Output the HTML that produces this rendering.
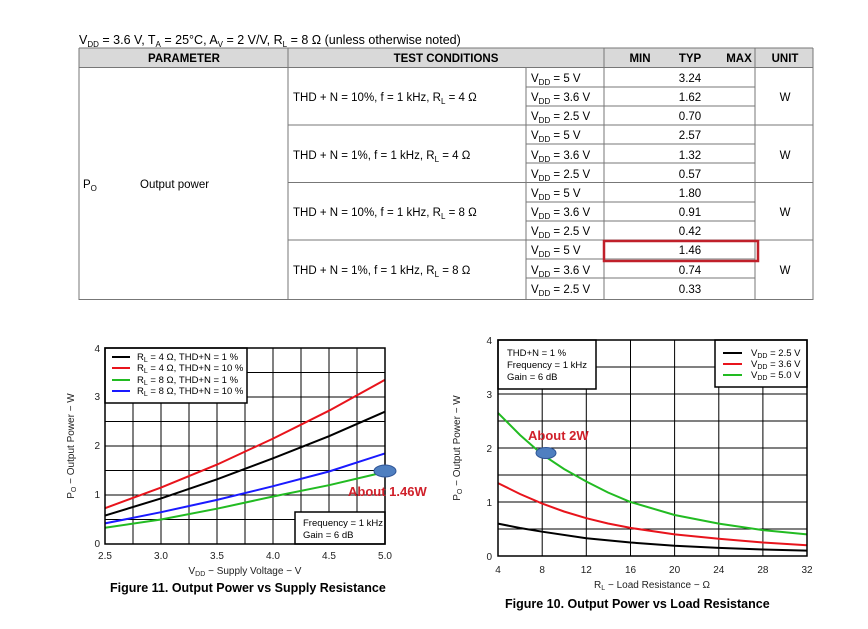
<!DOCTYPE html>
<html><head><meta charset="utf-8"><style>
body{margin:0;background:#fff;}
svg{display:block;font-family:"Liberation Sans",sans-serif;}
</style></head><body>
<svg width="868" height="629" viewBox="0 0 868 629" xmlns="http://www.w3.org/2000/svg">
<rect width="868" height="629" fill="#fff"/>
<!-- Table -->
<text x="79" y="44" font-size="12.5">V<tspan font-size="8" dy="3">DD</tspan><tspan dy="-3"> = 3.6 V, T</tspan><tspan font-size="8" dy="3">A</tspan><tspan dy="-3"> = 25°C, A</tspan><tspan font-size="8" dy="3">V</tspan><tspan dy="-3"> = 2 V/V, R</tspan><tspan font-size="8" dy="3">L</tspan><tspan dy="-3"> = 8 Ω (unless otherwise noted)</tspan></text>
<rect x="79" y="48" width="734" height="20" fill="#d9d9d9"/>
<g stroke="#777" stroke-width="1" fill="none">
<line x1="79" y1="48" x2="813" y2="48"/>
<line x1="79" y1="67.5" x2="813" y2="67.5"/>
<line x1="79" y1="48" x2="79" y2="300"/>
<line x1="813" y1="48" x2="813" y2="300"/>
<line x1="288" y1="48" x2="288" y2="300"/>
<line x1="604" y1="48" x2="604" y2="300"/>
<line x1="755" y1="48" x2="755" y2="300"/>
<line x1="526" y1="67" x2="526" y2="300"/>
<line x1="288" y1="125" x2="813" y2="125"/>
<line x1="288" y1="182.5" x2="813" y2="182.5"/>
<line x1="288" y1="240" x2="813" y2="240"/>
<line x1="526" y1="87" x2="755" y2="87"/><line x1="526" y1="106" x2="755" y2="106"/>
<line x1="526" y1="144" x2="755" y2="144"/><line x1="526" y1="163" x2="755" y2="163"/>
<line x1="526" y1="202" x2="755" y2="202"/><line x1="526" y1="221" x2="755" y2="221"/>
<line x1="526" y1="259" x2="755" y2="259"/><line x1="526" y1="278" x2="755" y2="278"/>
<line x1="79" y1="299.5" x2="813" y2="299.5"/>
</g>
<g font-size="11.5" font-weight="bold" text-anchor="middle">
<text x="184" y="62">PARAMETER</text><text x="446" y="62">TEST CONDITIONS</text>
<text x="640" y="62">MIN</text><text x="690" y="62">TYP</text><text x="739" y="62">MAX</text><text x="785" y="62">UNIT</text>
</g>
<g font-size="11.5">
<text x="83" y="188">P<tspan font-size="8" dy="3">O</tspan></text>
<text x="140" y="188">Output power</text>
<text x="293" y="101">THD + N = 10%, f = 1 kHz, R<tspan font-size="8" dy="3">L</tspan><tspan dy="-3"> = 4 Ω</tspan></text>
<text x="293" y="159">THD + N = 1%, f = 1 kHz, R<tspan font-size="8" dy="3">L</tspan><tspan dy="-3"> = 4 Ω</tspan></text>
<text x="293" y="216">THD + N = 10%, f = 1 kHz, R<tspan font-size="8" dy="3">L</tspan><tspan dy="-3"> = 8 Ω</tspan></text>
<text x="293" y="274">THD + N = 1%, f = 1 kHz, R<tspan font-size="8" dy="3">L</tspan><tspan dy="-3"> = 8 Ω</tspan></text>
</g>
<g font-size="11.5">
<text x="531" y="82">V<tspan font-size="8" dy="3">DD</tspan><tspan dy="-3"> = 5 V</tspan></text>
<text x="531" y="101">V<tspan font-size="8" dy="3">DD</tspan><tspan dy="-3"> = 3.6 V</tspan></text>
<text x="531" y="120">V<tspan font-size="8" dy="3">DD</tspan><tspan dy="-3"> = 2.5 V</tspan></text>
<text x="531" y="139">V<tspan font-size="8" dy="3">DD</tspan><tspan dy="-3"> = 5 V</tspan></text>
<text x="531" y="159">V<tspan font-size="8" dy="3">DD</tspan><tspan dy="-3"> = 3.6 V</tspan></text>
<text x="531" y="178">V<tspan font-size="8" dy="3">DD</tspan><tspan dy="-3"> = 2.5 V</tspan></text>
<text x="531" y="197">V<tspan font-size="8" dy="3">DD</tspan><tspan dy="-3"> = 5 V</tspan></text>
<text x="531" y="216">V<tspan font-size="8" dy="3">DD</tspan><tspan dy="-3"> = 3.6 V</tspan></text>
<text x="531" y="235">V<tspan font-size="8" dy="3">DD</tspan><tspan dy="-3"> = 2.5 V</tspan></text>
<text x="531" y="254">V<tspan font-size="8" dy="3">DD</tspan><tspan dy="-3"> = 5 V</tspan></text>
<text x="531" y="274">V<tspan font-size="8" dy="3">DD</tspan><tspan dy="-3"> = 3.6 V</tspan></text>
<text x="531" y="293">V<tspan font-size="8" dy="3">DD</tspan><tspan dy="-3"> = 2.5 V</tspan></text>
</g>
<g font-size="11.5" text-anchor="middle">
<text x="690" y="82">3.24</text><text x="690" y="101">1.62</text><text x="690" y="120">0.70</text>
<text x="690" y="139">2.57</text><text x="690" y="159">1.32</text><text x="690" y="178">0.57</text>
<text x="690" y="197">1.80</text><text x="690" y="216">0.91</text><text x="690" y="235">0.42</text>
<text x="690" y="254">1.46</text><text x="690" y="274">0.74</text><text x="690" y="293">0.33</text>
<text x="785" y="101">W</text><text x="785" y="159">W</text><text x="785" y="216">W</text><text x="785" y="274">W</text>
</g>
<rect x="604" y="241" width="154" height="20" fill="none" stroke="#c0202a" stroke-width="2.5"/>

<!-- Left chart -->
<g stroke="#000" stroke-width="1">
<line x1="133" y1="348" x2="133" y2="544"/><line x1="161" y1="348" x2="161" y2="544"/><line x1="189" y1="348" x2="189" y2="544"/><line x1="217" y1="348" x2="217" y2="544"/><line x1="245" y1="348" x2="245" y2="544"/><line x1="273" y1="348" x2="273" y2="544"/><line x1="301" y1="348" x2="301" y2="544"/><line x1="329" y1="348" x2="329" y2="544"/><line x1="357" y1="348" x2="357" y2="544"/>
<line x1="105" y1="519.5" x2="385" y2="519.5"/><line x1="105" y1="495" x2="385" y2="495"/><line x1="105" y1="470.5" x2="385" y2="470.5"/><line x1="105" y1="446" x2="385" y2="446"/><line x1="105" y1="421.5" x2="385" y2="421.5"/><line x1="105" y1="397" x2="385" y2="397"/><line x1="105" y1="372.5" x2="385" y2="372.5"/>
</g>
<g fill="none" stroke-width="2">
<polyline stroke="#e8141c" points="105,508.2 161,487.6 217,464.6 273,438.6 329,410.7 385,379.8"/>
<polyline stroke="#000" points="105,515.6 161,498.4 217,479.3 273,458.3 329,436.2 385,411.7"/>
<polyline stroke="#1a1aff" points="105,523.4 161,512.2 217,499.9 273,486.2 329,471.5 385,453.4"/>
<polyline stroke="#22bb22" points="105,527.8 161,519.5 217,508.7 273,496.5 329,485.2 385,472"/>
</g>
<rect x="105" y="348" width="142" height="55" fill="#fff" stroke="#000" stroke-width="1.5"/>
<g stroke-width="2"><line x1="112" y1="357" x2="130" y2="357" stroke="#000"/><line x1="112" y1="368" x2="130" y2="368" stroke="#e8141c"/><line x1="112" y1="380" x2="130" y2="380" stroke="#22bb22"/><line x1="112" y1="391" x2="130" y2="391" stroke="#1a1aff"/></g>
<g font-size="9.5">
<text x="137" y="360">R<tspan font-size="7" dy="2">L</tspan><tspan dy="-2"> = 4 Ω, THD+N = 1 %</tspan></text>
<text x="137" y="371">R<tspan font-size="7" dy="2">L</tspan><tspan dy="-2"> = 4 Ω, THD+N = 10 %</tspan></text>
<text x="137" y="383">R<tspan font-size="7" dy="2">L</tspan><tspan dy="-2"> = 8 Ω, THD+N = 1 %</tspan></text>
<text x="137" y="394">R<tspan font-size="7" dy="2">L</tspan><tspan dy="-2"> = 8 Ω, THD+N = 10 %</tspan></text>
</g>
<rect x="295" y="512" width="90" height="32" fill="#fff" stroke="#000" stroke-width="1.5"/>
<text x="303" y="526" font-size="9.5">Frequency = 1 kHz</text>
<text x="303" y="538" font-size="9.5">Gain = 6 dB</text>
<rect x="105" y="348" width="280" height="196" fill="none" stroke="#000" stroke-width="1.5"/>
<g font-size="10" text-anchor="end" fill="#222">
<text x="100" y="547">0</text><text x="100" y="498">1</text><text x="100" y="449">2</text><text x="100" y="400">3</text><text x="100" y="352">4</text>
</g>
<g font-size="10" text-anchor="middle" fill="#222">
<text x="105" y="559">2.5</text><text x="161" y="559">3.0</text><text x="217" y="559">3.5</text><text x="273" y="559">4.0</text><text x="329" y="559">4.5</text><text x="385" y="559">5.0</text>
</g>
<text x="245" y="574" font-size="10" text-anchor="middle" fill="#222">V<tspan font-size="7" dy="2">DD</tspan><tspan dy="-2"> − Supply Voltage − V</tspan></text>
<text transform="translate(74,446) rotate(-90)" font-size="10" text-anchor="middle" fill="#222">P<tspan font-size="7" dy="2">O</tspan><tspan dy="-2"> − Output Power − W</tspan></text>
<ellipse cx="385" cy="471" rx="11" ry="6" fill="#4f7fc0" stroke="#2f5597" stroke-width="1"/>
<text x="348" y="496" font-size="13" font-weight="bold" fill="#d0202a">About 1.46W</text>
<text x="110" y="592" font-size="12.5" font-weight="bold">Figure 11. Output Power vs Supply Resistance</text>

<!-- Right chart -->
<g stroke="#000" stroke-width="1">
<line x1="542.2" y1="340" x2="542.2" y2="556"/><line x1="586.3" y1="340" x2="586.3" y2="556"/><line x1="630.5" y1="340" x2="630.5" y2="556"/><line x1="674.6" y1="340" x2="674.6" y2="556"/><line x1="718.8" y1="340" x2="718.8" y2="556"/><line x1="762.9" y1="340" x2="762.9" y2="556"/>
<line x1="498" y1="529" x2="807" y2="529"/><line x1="498" y1="502" x2="807" y2="502"/><line x1="498" y1="475" x2="807" y2="475"/><line x1="498" y1="448" x2="807" y2="448"/><line x1="498" y1="421" x2="807" y2="421"/><line x1="498" y1="394" x2="807" y2="394"/><line x1="498" y1="367" x2="807" y2="367"/>
</g>
<g fill="none" stroke-width="2">
<polyline stroke="#22bb22" points="498,412.9 520,435 542.2,454.5 564,469 586.3,481.5 608,492.5 630.5,502 674.6,515 718.8,523.6 762.9,530.1 807,534.4"/>
<polyline stroke="#e8141c" points="498,483.1 520,494 542.2,503.6 564,511.5 586.3,518.2 608,523.5 630.5,527.9 674.6,534.4 718.8,538.7 762.9,542.5 807,545.2"/>
<polyline stroke="#000" points="498,523.6 520,528 542.2,531.7 586.3,538.2 630.5,542.5 674.6,545.7 718.8,547.9 762.9,549.5 807,550.6"/>
</g>
<rect x="498" y="340" width="98" height="49" fill="#fff" stroke="#000" stroke-width="1.5"/>
<text x="507" y="356" font-size="9.5">THD+N = 1 %</text>
<text x="507" y="368" font-size="9.5">Frequency = 1 kHz</text>
<text x="507" y="380" font-size="9.5">Gain = 6 dB</text>
<rect x="715" y="340" width="92" height="47" fill="#fff" stroke="#000" stroke-width="1.5"/>
<g stroke-width="2"><line x1="723" y1="353" x2="742" y2="353" stroke="#000"/><line x1="723" y1="364" x2="742" y2="364" stroke="#e8141c"/><line x1="723" y1="375" x2="742" y2="375" stroke="#22bb22"/></g>
<g font-size="9.5">
<text x="751" y="356">V<tspan font-size="7" dy="2">DD</tspan><tspan dy="-2"> = 2.5 V</tspan></text>
<text x="751" y="367">V<tspan font-size="7" dy="2">DD</tspan><tspan dy="-2"> = 3.6 V</tspan></text>
<text x="751" y="378">V<tspan font-size="7" dy="2">DD</tspan><tspan dy="-2"> = 5.0 V</tspan></text>
</g>
<rect x="498" y="340" width="309" height="216" fill="none" stroke="#000" stroke-width="1.5"/>
<g font-size="10" text-anchor="end" fill="#222">
<text x="492" y="560">0</text><text x="492" y="506">1</text><text x="492" y="452">2</text><text x="492" y="398">3</text><text x="492" y="344">4</text>
</g>
<g font-size="10" text-anchor="middle" fill="#222">
<text x="498" y="573">4</text><text x="542.2" y="573">8</text><text x="586.3" y="573">12</text><text x="630.5" y="573">16</text><text x="674.6" y="573">20</text><text x="718.8" y="573">24</text><text x="762.9" y="573">28</text><text x="807" y="573">32</text>
</g>
<text x="652" y="588" font-size="10" text-anchor="middle" fill="#222">R<tspan font-size="7" dy="2">L</tspan><tspan dy="-2"> − Load Resistance − Ω</tspan></text>
<text transform="translate(460,448) rotate(-90)" font-size="10" text-anchor="middle" fill="#222">P<tspan font-size="7" dy="2">O</tspan><tspan dy="-2"> − Output Power − W</tspan></text>
<ellipse cx="546" cy="453" rx="10" ry="5.5" fill="#4f7fc0" stroke="#2f5597" stroke-width="1"/>
<text x="528" y="440" font-size="13" font-weight="bold" fill="#d0202a">About 2W</text>
<text x="505" y="608" font-size="12.5" font-weight="bold">Figure 10. Output Power vs Load Resistance</text>
</svg>
</body></html>
